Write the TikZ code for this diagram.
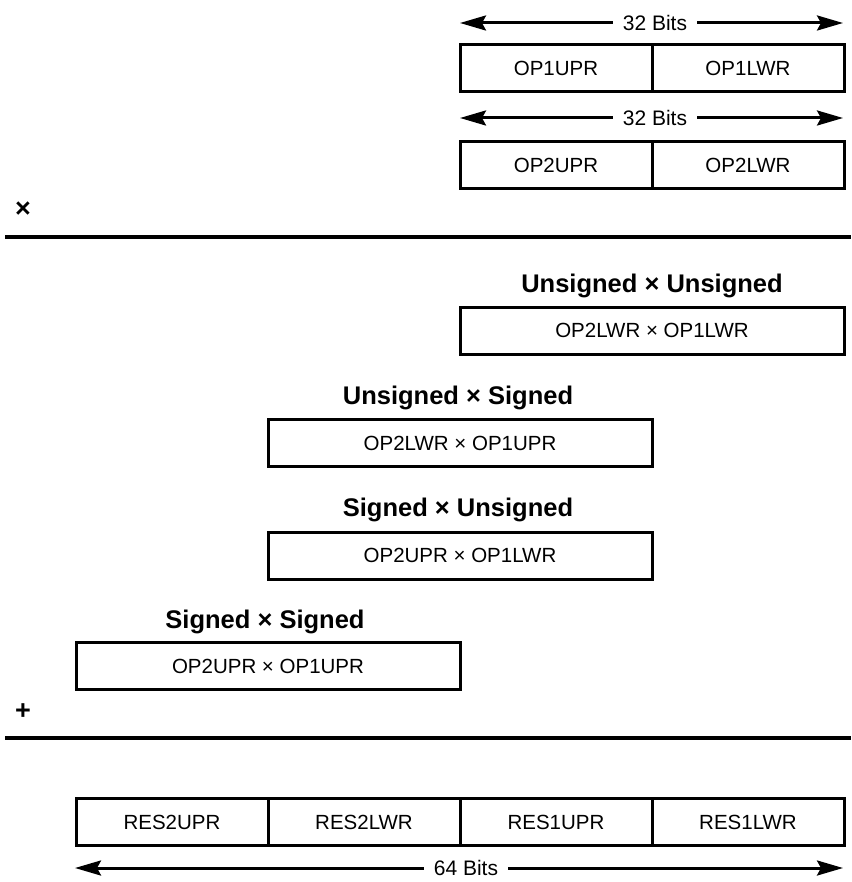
\documentclass[tikz,border=0pt]{standalone}
\usepackage{fontspec}
\setmainfont{Liberation Sans}
\usetikzlibrary{arrows.meta}
\begin{document}
\begin{tikzpicture}[x=1pt,y=-1pt,
  cell/.style={draw,line width=3pt,minimum height=47pt,inner sep=0pt,font=\fontsize{20.5}{22}\selectfont},
  half/.style={cell,minimum width=192pt},
  whole/.style={cell,minimum width=384pt},
  title/.style={anchor=base,inner sep=0pt,font=\fontsize{25.5}{28}\selectfont\bfseries},
  bits/.style={inner xsep=10pt,inner ysep=0pt,font=\fontsize{21}{24}\selectfont},
  arr/.style={line width=3pt,-{Stealth[length=26pt,width=15pt,inset=4pt]}},
  rule/.style={line width=4pt},
  sym/.style={inner sep=0pt,font=\fontsize{27}{30}\selectfont\bfseries}]
\useasboundingbox (0,0) rectangle (851,882);

% top operands
\coordinate (a1l) at (460,23); \coordinate (a1r) at (843,23);
\node[bits] (b1) at (655,23) {32 Bits};
\draw[arr] (b1.west) -- (a1l);
\draw[arr] (b1.east) -- (a1r);
\node[half] (op1u) at (556,68.5) {OP1UPR};
\node[half] (op1l) at (748,68.5) {OP1LWR};

\coordinate (a2l) at (460,118); \coordinate (a2r) at (843,118);
\node[bits] (b2) at (655,118) {32 Bits};
\draw[arr] (b2.west) -- (a2l);
\draw[arr] (b2.east) -- (a2r);
\node[half] (op2u) at (556,165.5) {OP2UPR};
\node[half] (op2l) at (748,165.5) {OP2LWR};

% multiply rule
\node[sym] (times) at (23,210) {×};
\coordinate (r1l) at (5,237); \coordinate (r1r) at (851,237);
\draw[rule] (r1l) -- (r1r);

% partial products
\node[title] (t1) at (652,292) {Unsigned × Unsigned};
\node[whole] (p1) at (652,330.5) {OP2LWR × OP1LWR};
\node[title] (t2) at (458,404) {Unsigned × Signed};
\node[whole] (p2) at (460,443) {OP2LWR × OP1UPR};
\node[title] (t3) at (458,516) {Signed × Unsigned};
\node[whole] (p3) at (460,555.5) {OP2UPR × OP1LWR};
\node[title] (t4) at (265,628) {Signed × Signed};
\node[whole] (p4) at (268,666) {OP2UPR × OP1UPR};

% add rule
\node[sym] (plus) at (23,712) {+};
\coordinate (r2l) at (5,738); \coordinate (r2r) at (851,738);
\draw[rule] (r2l) -- (r2r);

% result
\node[half] (res2u) at (172,822) {RES2UPR};
\node[half] (res2l) at (364,822) {RES2LWR};
\node[half] (res1u) at (556,822) {RES1UPR};
\node[half] (res1l) at (748,822) {RES1LWR};
\coordinate (a3l) at (75,868); \coordinate (a3r) at (843,868);
\node[bits] (b3) at (466,868) {64 Bits};
\draw[arr] (b3.west) -- (a3l);
\draw[arr] (b3.east) -- (a3r);
\end{tikzpicture}
\end{document}
